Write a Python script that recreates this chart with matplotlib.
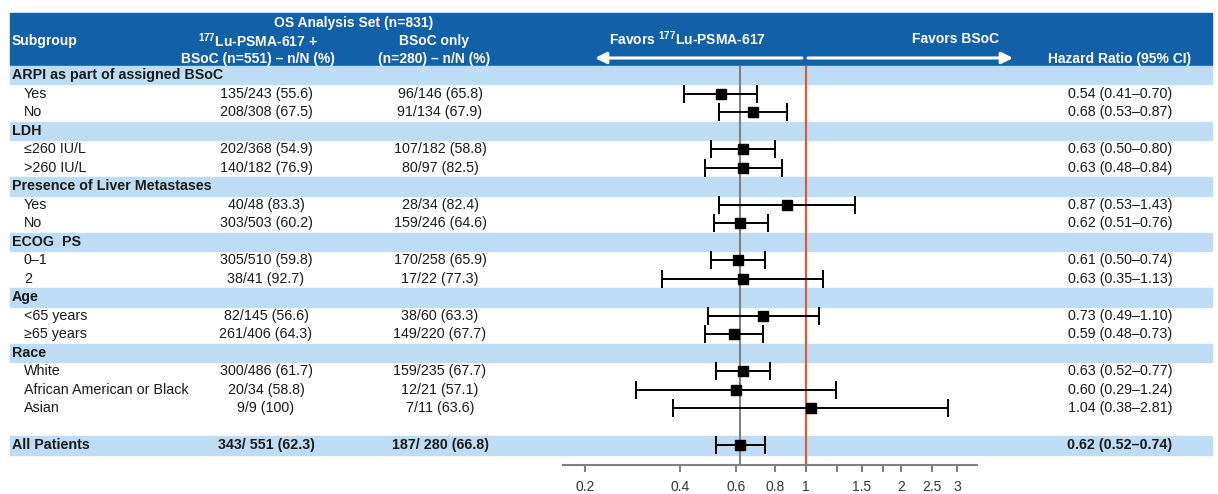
import numpy as np
import matplotlib.pyplot as plt
from matplotlib.patches import Rectangle
from matplotlib.ticker import FixedLocator, FixedFormatter, NullLocator

plt.rcParams['font.family'] = ['Liberation Sans', 'DejaVu Sans']
plt.rcParams['mathtext.fontset'] = 'custom'
plt.rcParams['mathtext.rm'] = 'Liberation Sans'
plt.rcParams['mathtext.bf'] = 'Liberation Sans:bold'

# --- data ---
labels = ["ARPI as part of assigned BSoC", "Yes", "No",
          "LDH", "≤260 IU/L", ">260 IU/L",
          "Presence of Liver Metastases", "Yes", "No",
          "ECOG  PS", "0–1", "2",
          "Age", "<65 years", "≥65 years",
          "Race", "White", "African American or Black", "Asian",
          "", "All Patients"]
kinds = ["group", "item", "item", "group", "item", "item", "group", "item", "item",
         "group", "item", "item", "group", "item", "item",
         "group", "item", "item", "item", "blank", "total"]
lu_counts = ["", "135/243 (55.6)", "208/308 (67.5)", "", "202/368 (54.9)", "140/182 (76.9)",
             "", "40/48 (83.3)", "303/503 (60.2)", "", "305/510 (59.8)", "38/41 (92.7)",
             "", "82/145 (56.6)", "261/406 (64.3)", "", "300/486 (61.7)", "20/34 (58.8)",
             "9/9 (100)", "", "343/ 551 (62.3)"]
bsoc_counts = ["", "96/146 (65.8)", "91/134 (67.9)", "", "107/182 (58.8)", "80/97 (82.5)",
               "", "28/34 (82.4)", "159/246 (64.6)", "", "170/258 (65.9)", "17/22 (77.3)",
               "", "38/60 (63.3)", "149/220 (67.7)", "", "159/235 (67.7)", "12/21 (57.1)",
               "7/11 (63.6)", "", "187/ 280 (66.8)"]
nan = np.nan
hr = np.array([nan, 0.54, 0.68, nan, 0.63, 0.63, nan, 0.87, 0.62, nan, 0.61, 0.63,
               nan, 0.73, 0.59, nan, 0.63, 0.60, 1.04, nan, 0.62])
lo = np.array([nan, 0.41, 0.53, nan, 0.50, 0.48, nan, 0.53, 0.51, nan, 0.50, 0.35,
               nan, 0.49, 0.48, nan, 0.52, 0.29, 0.38, nan, 0.52])
hi = np.array([nan, 0.70, 0.87, nan, 0.80, 0.84, nan, 1.43, 0.76, nan, 0.74, 1.13,
               nan, 1.10, 0.73, nan, 0.77, 1.24, 2.81, nan, 0.74])
tick_vals = [0.2, 0.4, 0.6, 0.8, 1, 1.25, 1.5, 1.75, 2, 2.5, 3]
tick_labels = ["0.2", "0.4", "0.6", "0.8", "1", "", "1.5", "", "2", "2.5", "3"]

# --- layout (pixels) ---
W, H = 1218, 494
ROW0, ROWH = 66, 18.5
AX_L, AX_R, AX_B = 563, 977, 465
DARK = "#1260A8"
LIGHT = "#BEDDF5"
TXT = "#1a1a1a"

fig = plt.figure(figsize=(W / 100, H / 100), dpi=100)
bg = fig.add_axes([0, 0, 1, 1])
bg.set_xlim(0, W)
bg.set_ylim(H, 0)
bg.axis("off")

ax = fig.add_axes([AX_L / W, 1 - AX_B / H, (AX_R - AX_L) / W, (AX_B - ROW0) / H])
ax.patch.set_alpha(0)
ax.set_xscale("log")
ax.set_xlim(0.1703, 3.476)
ax.set_ylim((AX_B - ROW0) / ROWH, 0)

# header band
bg.add_patch(Rectangle((10, 13), 1202, ROW0 - 13, color=DARK, zorder=0))
hdr = dict(color="white", fontweight="bold", fontsize=10, va="center")
bg.text(12, 41, "Subgroup", ha="left", **hdr)
bg.text(354, 23, "OS Analysis Set (n=831)", ha="center", **hdr)
bg.text(258, 41, r"$^{\mathbf{177}}$Lu-PSMA-617 +", ha="center", **hdr)
bg.text(258, 59, "BSoC (n=551) – n/N (%)", ha="center", **hdr)
bg.text(434, 41, "BSoC only", ha="center", **hdr)
bg.text(434, 59, "(n=280) – n/N (%)", ha="center", **hdr)
bg.text(687, 39, r"Favors $^{\mathbf{177}}$Lu-PSMA-617", ha="center", **hdr)
bg.text(955, 39, "Favors BSoC", ha="center", **hdr)
bg.text(1120, 59, "Hazard Ratio (95% CI)", ha="center", **hdr)

coords = (ax.transData, bg.transData)
arrow = dict(arrowstyle="-|>", color="white", lw=2.2, mutation_scale=17, shrinkA=0, shrinkB=0)
bg.annotate("", xy=(0.215, 58), xytext=(0.971, 58), xycoords=coords, textcoords=coords, arrowprops=arrow)
bg.annotate("", xy=(4.52, 58), xytext=(1.015, 58), xycoords=coords, textcoords=coords, arrowprops=arrow)

# rows
for i, (lab, kind) in enumerate(zip(labels, kinds)):
    y = ROW0 + (i + 0.5) * ROWH
    if kind in ("group", "total"):
        bg.add_patch(Rectangle((10, ROW0 + i * ROWH), 1202, ROWH, color=LIGHT, zorder=0))
    bold = "bold" if kind in ("group", "total") else "normal"
    x0 = 12 if kind in ("group", "total") else 24
    bg.text(x0, y, lab, ha="left", va="center", fontsize=10.3, fontweight=bold, color=TXT)
    if kind in ("item", "total"):
        w = "bold" if kind == "total" else "normal"
        bg.text(266, y, lu_counts[i], ha="center", va="center", fontsize=10.3, fontweight=w, color=TXT)
        bg.text(440, y, bsoc_counts[i], ha="center", va="center", fontsize=10.3, fontweight=w, color=TXT)
        bg.text(1120, y, f"{hr[i]:.2f} ({lo[i]:.2f}–{hi[i]:.2f})", ha="center", va="center",
                fontsize=10.3, fontweight=w, color=TXT)

# forest plot
ypos = np.arange(len(labels)) + 0.5
ok = ~np.isnan(hr)
ax.axvline(hr[-1], color="#808080", lw=1.5, zorder=1)
ax.axvline(1, color="#DC5A3A", lw=1.6, zorder=1)
ax.errorbar(hr[ok], ypos[ok], xerr=[hr[ok] - lo[ok], hi[ok] - hr[ok]], fmt="s", color="black",
            ms=6.5, capsize=6.5, elinewidth=1.4, capthick=1.4, zorder=3)

ax.xaxis.set_major_locator(FixedLocator(tick_vals))
ax.xaxis.set_major_formatter(FixedFormatter(tick_labels))
ax.xaxis.set_minor_locator(NullLocator())
ax.tick_params(axis="x", length=5, width=1.5, color="#808080", labelsize=10,
               labelcolor="#333333", pad=6)
ax.set_yticks([])
for s in ("top", "left", "right"):
    ax.spines[s].set_visible(False)
ax.spines["bottom"].set_color("#808080")
ax.spines["bottom"].set_linewidth(1.5)

fig.savefig("out.png", dpi=100)
